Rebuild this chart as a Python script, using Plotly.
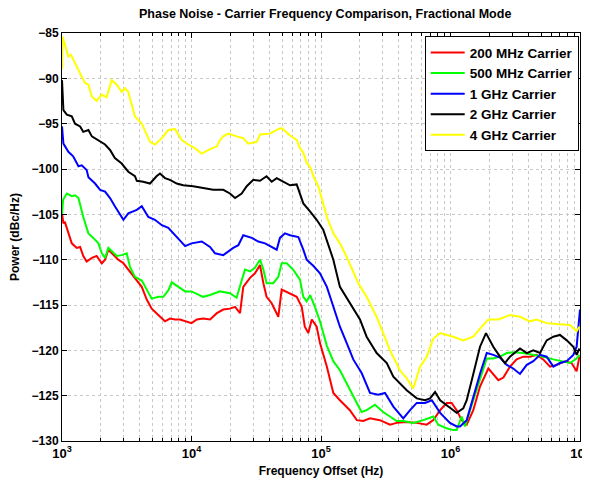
import plotly.graph_objects as go

# ---- data (frequency offset in Hz, power in dBc/Hz) ----
f_200m = [1000, 1025, 1050, 1120, 1190, 1300, 1380, 1460, 1550, 1700, 1850, 2030, 2150, 2280, 2490, 2720,
          2980, 3250, 3660, 4130, 4510, 4930, 5540, 6240, 6820, 7470, 8150, 9150, 10000, 11000, 12300, 13900,
          15700, 17600, 19800, 21700, 23700, 25100, 28300, 30900, 33800, 35900, 38000, 41600, 46800, 49700,
          56000, 64900, 71000, 75000, 79800, 84900, 92600, 98200, 111000, 124500, 140000, 167000, 189000,
          212000, 239000, 285000, 341000, 384000, 459000, 549000, 655000, 737000, 832000, 935000, 1.02e6,
          1.116e6, 1.22e6, 1.334e6, 1.5e6, 1.69e6, 1.96e6, 2.14e6, 2.34e6, 2.56e6, 2.88e6, 3.24e6, 3.65e6,
          4.11e6, 4.63e6, 5.2e6, 5.87e6, 6.6e6, 7.66e6, 8.6e6, 9.42e6, 9.9e6]
p_200m = [-104.9, -106.0, -105.8, -107.1, -108.2, -108.7, -108.6, -109.6, -110.2, -109.8, -109.6, -110.4, -110.0,
          -108.9, -109.5, -110.0, -110.4, -111.1, -112.0, -113.0, -114.4, -115.4, -116.1, -116.8, -116.5, -116.6,
          -116.6, -116.8, -117.0, -116.6, -116.5, -116.6, -115.9, -115.5, -115.4, -115.2, -115.9, -113.0, -112.0,
          -111.5, -110.6, -112.6, -114.1, -114.8, -116.3, -113.3, -113.7, -114.1, -115.2, -117.4, -118.1, -116.6,
          -117.4, -119.2, -121.8, -124.7, -125.5, -126.6, -127.7, -127.8, -127.5, -127.7, -128.2, -128.0, -127.9,
          -128.0, -128.2, -127.7, -126.6, -125.8, -125.8, -126.6, -127.7, -128.2, -126.6, -124.0, -122.0, -122.6,
          -123.3, -123.0, -121.8, -121.0, -120.7, -120.7, -120.5, -121.0, -121.8, -121.6, -121.2, -121.4, -122.3,
          -120.7]

f_500m = [1000, 1020, 1090, 1190, 1260, 1340, 1460, 1600, 1745, 1910, 2030, 2150, 2280, 2420, 2650, 2890, 3160,
          3350, 3660, 4130, 4640, 4930, 5540, 6060, 6620, 7040, 7920, 8930, 10000, 11300, 12300, 13900, 16600,
          19800, 22300, 24400, 25900, 28300, 30900, 33800, 35900, 38000, 42800, 46800, 49700, 54300, 61000,
          68800, 73000, 77500, 82500, 89800, 98200, 111000, 124500, 140000, 167000, 189000, 206000, 225000,
          261000, 302000, 341000, 384000, 432000, 516000, 617000, 737000, 805000, 935000, 1.05e6, 1.116e6,
          1.22e6, 1.294e6, 1.5e6, 1.69e6, 1.905e6, 2.14e6, 2.41e6, 2.72e6, 3.05e6, 3.65e6, 4.36e6, 5.2e6,
          6.22e6, 7.44e6, 8.37e6, 9.42e6, 9.9e6]
p_500m = [-105.0, -103.4, -102.7, -103.0, -102.9, -103.2, -105.3, -107.1, -107.6, -108.2, -109.3, -109.8, -108.7,
          -109.1, -109.6, -109.5, -109.3, -110.8, -111.9, -112.3, -113.7, -114.3, -114.1, -114.1, -113.4, -112.5,
          -113.0, -113.5, -113.5, -113.9, -114.1, -113.9, -113.5, -113.7, -114.2, -112.3, -111.1, -111.3, -110.9,
          -110.0, -111.1, -112.6, -112.6, -111.9, -110.4, -110.4, -111.1, -112.2, -114.1, -114.6, -113.9, -115.2,
          -116.8, -119.5, -121.2, -122.2, -124.4, -125.8, -126.8, -126.6, -126.0, -126.8, -127.3, -127.8, -127.8,
          -128.0, -127.7, -127.3, -128.2, -128.6, -128.8, -128.8, -127.3, -128.4, -125.5, -123.3, -120.9, -120.9,
          -120.7, -120.3, -120.2, -120.3, -120.5, -120.7, -121.0, -121.2, -121.4, -120.9, -120.5]

f_1g = [1000, 1025, 1120, 1220, 1340, 1420, 1550, 1600, 1800, 1970, 2150, 2350, 2560, 2890, 2980, 3250, 3780,
        4130, 4640, 5220, 5900, 6620, 7470, 8930, 10000, 12000, 13900, 15200, 17600, 21000, 23000, 25100, 29200,
        32800, 37000, 41600, 45500, 48200, 52700, 57700, 66800, 73000, 77500, 87500, 98200, 111000, 124500,
        140000, 158000, 177500, 206000, 239000, 277000, 312000, 362000, 432000, 487000, 549000, 635000, 717000,
        832000, 990000, 1.116e6, 1.184e6, 1.334e6, 1.5e6, 1.69e6, 1.905e6, 2.14e6, 2.41e6, 2.72e6, 3.05e6,
        3.44e6, 3.88e6, 4.36e6, 4.91e6, 5.53e6, 6.22e6, 7.0e6, 7.9e6, 8.88e6, 9.42e6, 1.0e7]
p_1g = [-95.3, -97.2, -98.1, -98.6, -99.7, -99.6, -100.1, -100.9, -101.6, -102.3, -102.5, -103.2, -104.1, -105.3,
        -105.6, -104.9, -104.5, -104.1, -105.3, -105.6, -106.2, -106.5, -107.3, -108.5, -108.2, -108.0, -108.6,
        -109.3, -109.5, -108.7, -108.4, -107.3, -107.6, -108.0, -108.2, -108.6, -108.9, -107.6, -107.1, -107.3,
        -107.5, -108.9, -110.0, -110.7, -111.5, -113.0, -115.3, -117.4, -119.2, -121.0, -122.5, -124.7, -124.9,
        -124.7, -126.2, -127.5, -126.6, -125.8, -125.8, -125.5, -126.9, -128.0, -128.4, -128.4, -127.7, -125.1,
        -122.6, -120.3, -120.5, -120.8, -121.6, -122.0, -122.6, -121.6, -121.2, -120.5, -120.7, -121.8, -121.4,
        -121.2, -120.5, -119.6, -115.5]

f_2g = [1000, 1020, 1025, 1090, 1190, 1260, 1380, 1460, 1600, 1700, 1910, 2150, 2350, 2560, 2890, 3250, 3660,
        3780, 4240, 4780, 5370, 5710, 6240, 6820, 7690, 8630, 10300, 12300, 14700, 17600, 19800, 21700, 24400,
        26700, 30000, 33800, 38000, 41600, 45500, 51000, 57700, 64900, 73000, 82500, 92600, 104000, 117000,
        124500, 140000, 167000, 200000, 225000, 269000, 322000, 362000, 459000, 549000, 635000, 695000, 760000,
        832000, 962000, 1.116e6, 1.255e6, 1.334e6, 1.5e6, 1.69e6, 1.88e6, 2.14e6, 2.41e6, 2.63e6, 2.88e6,
        3.44e6, 3.88e6, 4.36e6, 4.91e6, 5.53e6, 6.22e6, 7.0e6, 7.9e6, 8.88e6, 9.42e6, 9.9e6]
p_2g = [-90.2, -93.0, -93.5, -94.0, -94.2, -95.0, -95.3, -95.9, -95.7, -96.4, -96.8, -97.3, -97.9, -98.8, -99.4,
        -100.3, -100.8, -101.3, -101.4, -101.6, -100.8, -100.5, -101.0, -101.2, -101.6, -101.8, -101.9, -102.1,
        -102.3, -102.3, -102.7, -103.2, -102.7, -101.9, -101.2, -101.3, -100.8, -101.4, -101.0, -101.4, -101.8,
        -101.7, -103.8, -104.7, -105.6, -106.7, -108.9, -110.0, -113.0, -114.8, -116.6, -118.5, -120.3, -121.4,
        -122.9, -124.4, -125.3, -125.5, -125.3, -124.6, -125.5, -126.2, -126.9, -126.4, -125.5, -122.6, -119.6,
        -118.1, -119.6, -120.7, -121.4, -120.7, -119.8, -120.3, -120.0, -120.3, -118.9, -118.5, -118.3, -118.9,
        -119.6, -120.5, -119.8]

f_4g = [1000, 1010, 1120, 1170, 1260, 1420, 1500, 1600, 1700, 1850, 2030, 2210, 2420, 2650, 2890, 3070, 3250,
        3660, 4130, 4780, 5220, 5900, 6620, 7470, 8410, 9450, 10600, 12000, 13900, 15700, 16600, 17600, 19200,
        22300, 25100, 27400, 31900, 33800, 40400, 46800, 49700, 57700, 64900, 68800, 73000, 77500, 82500,
        87500, 95200, 104000, 111000, 124500, 140000, 158000, 167000, 194000, 225000, 269000, 302000, 341000,
        407000, 459000, 516000, 582000, 655000, 737000, 832000, 935000, 1.05e6, 1.255e6, 1.5e6, 1.69e6, 1.96e6,
        2.34e6, 2.88e6, 3.44e6, 4.11e6, 4.63e6, 5.53e6, 6.6e6, 8.37e6, 9.42e6, 9.9e6]
p_4g = [-89.0, -85.4, -87.6, -87.4, -88.3, -89.8, -90.5, -90.7, -92.0, -92.5, -91.8, -92.1, -90.2, -90.7, -91.5,
        -91.1, -91.5, -94.2, -95.0, -97.0, -97.3, -96.6, -95.7, -95.6, -96.8, -97.3, -97.7, -98.3, -97.8, -97.5,
        -96.8, -96.4, -96.1, -96.4, -96.6, -97.2, -97.0, -96.2, -96.1, -95.6, -95.5, -96.3, -96.8, -97.7, -98.2,
        -99.3, -99.8, -100.8, -101.9, -103.8, -105.3, -107.1, -108.2, -109.7, -110.5, -112.6, -114.1, -116.3,
        -118.1, -120.0, -122.2, -123.1, -124.2, -121.8, -120.7, -118.7, -118.1, -118.3, -118.5, -118.9, -118.5,
        -117.6, -116.6, -116.6, -116.1, -116.3, -116.8, -116.6, -117.0, -117.1, -117.2, -117.9, -117.4]

series_names = ["200 MHz Carrier", "500 MHz Carrier", "1 GHz Carrier", "2 GHz Carrier", "4 GHz Carrier"]
series_x = [f_200m, f_500m, f_1g, f_2g, f_4g]
series_y = [p_200m, p_500m, p_1g, p_2g, p_4g]
series_colors = ["#ff0000", "#00ff00", "#0000ff", "#000000", "#ffff00"]

x_tickvals = [1e3, 1e4, 1e5, 1e6, 1e7]
x_ticktext = ["10<sup>3</sup>", "10<sup>4</sup>", "10<sup>5</sup>", "10<sup>6</sup>", "10<sup>7</sup>"]
y_tickvals = [-130, -125, -120, -115, -110, -105, -100, -95, -90, -85]

FONT = "Liberation Sans, Arial, sans-serif"

fig = go.Figure()
for name, xs, ys, col in zip(series_names, series_x, series_y, series_colors):
    fig.add_trace(go.Scatter(x=xs, y=ys, mode="lines", name=name,
                             line=dict(color=col, width=2)))

grid_col = "#c8c8c8"
fig.update_layout(
    width=582, height=470,
    margin=dict(l=54, r=10, t=25, b=37, autoexpand=False),
    paper_bgcolor="white", plot_bgcolor="white",
    font=dict(family=FONT, size=12, color="black", weight="bold"),
    title=dict(text="Phase Noise - Carrier Frequency Comparison, Fractional Mode",
               x=0.545, xanchor="center", y=0.988, yanchor="middle",
               font=dict(family=FONT, size=12.5, color="black", weight="bold")),
    showlegend=True,
    legend=dict(x=0.9975, xanchor="right", y=0.992, yanchor="top",
                bgcolor="white", bordercolor="black", borderwidth=1,
                font=dict(family=FONT, size=13.5, color="black", weight="bold"),
                itemwidth=34, tracegroupgap=0),
)
fig.update_xaxes(
    type="log", range=[3, 7], automargin=True,
    tickvals=x_tickvals, ticktext=x_ticktext,
    tickfont=dict(family=FONT, size=13, color="black", weight="bold"),
    title=dict(text="Frequency Offset (Hz)", standoff=8,
               font=dict(family=FONT, size=12, color="black", weight="bold")),
    showline=True, linecolor="black", linewidth=1, mirror="allticks",
    ticks="inside", ticklen=5, tickcolor="black",
    showgrid=True, gridcolor=grid_col, griddash="dot", gridwidth=1,
    zeroline=False,
    minor=dict(dtick="D1", ticks="inside", ticklen=3, tickcolor="black",
               showgrid=True, gridcolor=grid_col, griddash="dot", gridwidth=1),
)
fig.update_yaxes(
    range=[-130, -85], tickvals=y_tickvals, automargin=False,
    tickfont=dict(family=FONT, size=12, color="black", weight="bold"),
    title=dict(text="Power (dBc/Hz)",
               font=dict(family=FONT, size=12, color="black", weight="bold")),
    showline=True, linecolor="black", linewidth=1, mirror="allticks",
    ticks="inside", ticklen=5, tickcolor="black",
    showgrid=True, gridcolor=grid_col, griddash="dot", gridwidth=1,
    zeroline=False,
)

fig.write_html("out.html")
